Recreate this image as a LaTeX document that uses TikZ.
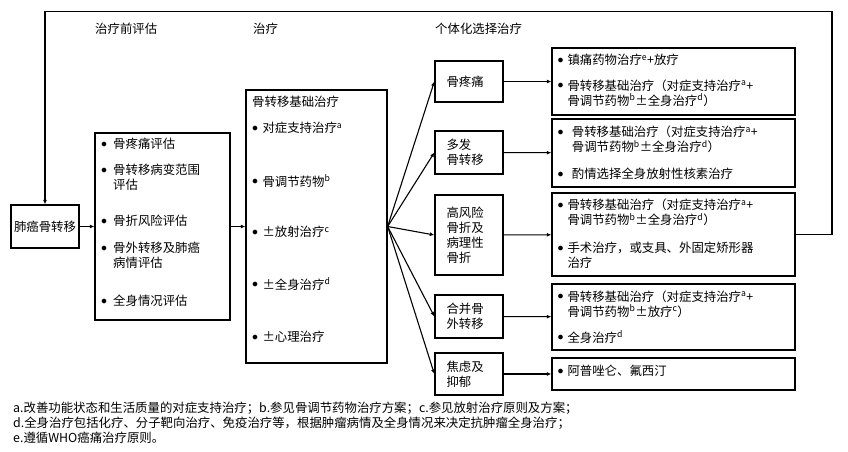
\documentclass[tikz,border=0pt]{standalone}
\usepackage{fontspec}
\setmainfont{Noto Sans CJK SC}
\usepackage{tikz}
\usetikzlibrary{arrows.meta,positioning,calc}
\newcommand{\bul}[1][8.3bp]{\makebox[#1][l]{\hspace*{-1.5bp}\raisebox{0.1em}{$\bullet$}}}
\newcommand{\ind}[1][8.3bp]{\hspace*{#1}}
\newcommand{\sps}[1]{\textsuperscript{#1}}

\tikzset{
  box/.style={draw, line width=1.3bp, inner sep=0pt},
  txt/.style={inner sep=0pt, anchor=west, align=left, font=\fontsize{12.4bp}{15bp}\selectfont},
  arr/.style={line width=1.1bp, -{Latex[length=4.5bp,width=4bp]}}
}

\begin{document}
\begin{tikzpicture}[x=1bp, y=-1bp]
    \useasboundingbox (0,0) rectangle (848,452);

    % headings
    \node[txt] (h1) at (95,29) {治疗前评估};
    \node[txt] (h2) at (253,29) {治疗};
    \node[txt] (h3) at (435,29) {个体化选择治疗};

    % left column
    \node[box, minimum width=68bp, minimum height=43bp, font=\fontsize{12.4bp}{15bp}\selectfont] (lung) at (45,226.5) {肺癌骨转移};
    \node[box, minimum width=135bp, minimum height=187bp] (assess) at (162.5,226.5) {};
    \node[txt] (a1) at (102.5,144) {\bul[10.5bp]骨疼痛评估};
    \node[txt] (a2) at (102.5,177.5) {\bul[10.5bp]骨转移病变范围\\\ind[10.5bp]评估};
    \node[txt] (a3) at (102.5,221) {\bul[10.5bp]骨折风险评估};
    \node[txt] (a4) at (102.5,255.5) {\bul[10.5bp]骨外转移及肺癌\\\ind[10.5bp]病情评估};
    \node[txt] (a5) at (102.5,301) {\bul[10.5bp]全身情况评估};

    \node[box, minimum width=141bp, minimum height=273bp] (treat) at (316.5,226.5) {};
    \node[txt] (t0) at (252,102) {骨转移基础治疗};
    \node[txt] (t1) at (253.5,128) {\bul[8.8bp]对症支持治疗\sps{a}};
    \node[txt] (t2) at (253.5,181) {\bul[8.8bp]骨调节药物\sps{b}};
    \node[txt] (t3) at (253.5,232) {\bul[8.8bp]±放射治疗\sps{c}};
    \node[txt] (t4) at (253.5,284) {\bul[8.8bp]±全身治疗\sps{d}};
    \node[txt] (t5) at (253.5,337) {\bul[8.8bp]±心理治疗};

    % categories
    \tikzset{cat/.style={box, minimum width=68bp, text width=45bp, align=left, font=\fontsize{12.4bp}{15bp}\selectfont}}
    \node[cat, minimum height=41bp] (pain) at (469,81.5) {骨疼痛};
    \node[cat, minimum height=43bp] (multi) at (469,152.5) {多发\\骨转移};
    \node[cat, minimum height=80bp] (frac) at (469,235) {高风险\\骨折及\\病理性\\骨折};
    \node[cat, minimum height=43bp] (extra) at (469,316.5) {合并骨\\外转移};
    \node[cat, minimum height=42bp] (mood) at (469,374) {焦虑及\\抑郁};

    % results
    \node[box, minimum width=243bp, minimum height=67bp] (rpain) at (673.5,81.5) {};
    \node[txt] (r11) at (559,60) {\bul 镇痛药物治疗\sps{e}+放疗};
    \node[txt] (r12) at (559,93) {\bul 骨转移基础治疗（对症支持治疗\sps{a}+\\\ind 骨调节药物\sps{b}±全身治疗\sps{d}）};

    \node[box, minimum width=243bp, minimum height=68bp] (rmulti) at (673.5,153) {};
    \node[txt] (r21) at (559,139.5) {\bul[12.7bp]骨转移基础治疗（对症支持治疗\sps{a}+\\\ind[12.7bp]骨调节药物\sps{b}±全身治疗\sps{d}）};
    \node[txt] (r22) at (559,174) {\bul[12.7bp]酌情选择全身放射性核素治疗};

    \node[box, minimum width=243bp, minimum height=83bp] (rfrac) at (673.5,234.5) {};
    \node[txt] (r31) at (559,212.5) {\bul 骨转移基础治疗（对症支持治疗\sps{a}+\\\ind 骨调节药物\sps{b}±全身治疗\sps{d}）};
    \node[txt] (r32) at (559,255.5) {\bul 手术治疗，或支具、外固定矫形器\\\ind 治疗};

    \node[box, minimum width=243bp, minimum height=66bp] (rextra) at (673.5,317) {};
    \node[txt] (r41) at (559,304) {\bul 骨转移基础治疗（对症支持治疗\sps{a}+\\\ind 骨调节药物\sps{b}±放疗\sps{c}）};
    \node[txt] (r42) at (559,337) {\bul 全身治疗\sps{d}};

    \node[box, minimum width=243bp, minimum height=32bp] (rmood) at (673.5,374) {};
    \node[txt] (r51) at (559,371) {\bul 阿普唑仑、氟西汀};

    % footnotes
    \node[txt] (notes) at (13,423) {a.改善功能状态和生活质量的对症支持治疗；b.参见骨调节药物治疗方案；c.参见放射治疗原则及方案；\\
      d.全身治疗包括化疗、分子靶向治疗、免疫治疗等，根据肿瘤病情及全身情况来决定抗肿瘤全身治疗；\\
      e.遵循WHO癌痛治疗原则。};

    % connectors
    \draw[arr] (lung) -- (assess);
    \draw[arr] (assess) -- (treat);
    \foreach \c in {pain, multi, frac, extra, mood}
      \draw[arr] (treat.east) -- (\c.west);
    \draw[arr] (pain) -- (rpain);
    \draw[arr] (multi) -- (rmulti);
    \draw[arr] (frac) -- (rfrac);
    \draw[arr] (extra) -- (rextra);
    \draw[arr] (mood) -- (rmood);

    \coordinate (loop) at (832,11.5);
    \draw[arr] (rfrac.east) -| (loop) -| (lung.north);
\end{tikzpicture}
\end{document}
